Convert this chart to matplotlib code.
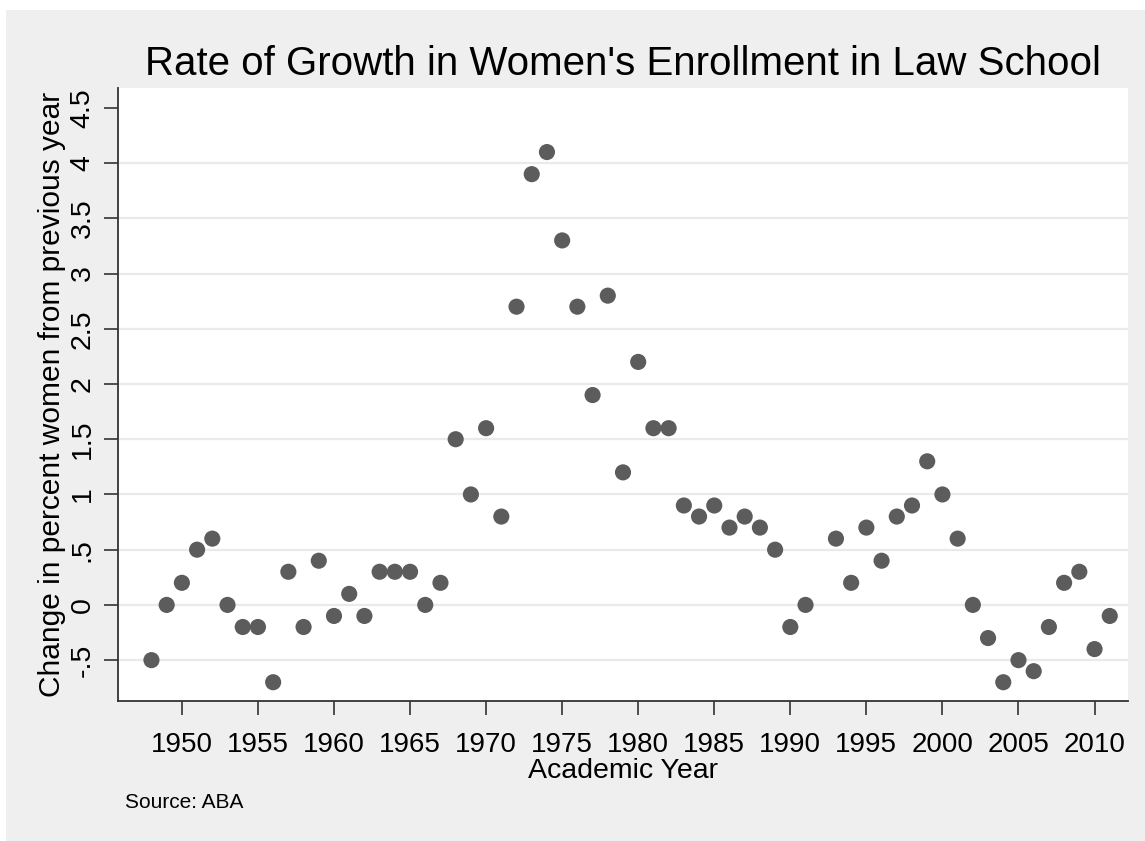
import matplotlib
matplotlib.use("Agg")
import matplotlib.pyplot as plt
from matplotlib.patches import Rectangle

# Academic years (1992 has no value in the source chart)
years = [1948, 1949, 1950, 1951, 1952, 1953, 1954, 1955, 1956, 1957,
         1958, 1959, 1960, 1961, 1962, 1963, 1964, 1965, 1966, 1967,
         1968, 1969, 1970, 1971, 1972, 1973, 1974, 1975, 1976, 1977,
         1978, 1979, 1980, 1981, 1982, 1983, 1984, 1985, 1986, 1987,
         1988, 1989, 1990, 1991, 1993, 1994, 1995, 1996, 1997, 1998,
         1999, 2000, 2001, 2002, 2003, 2004, 2005, 2006, 2007, 2008,
         2009, 2010, 2011]

# Change in percent women from previous year
change = [-0.5, 0.0, 0.2, 0.5, 0.6, 0.0, -0.2, -0.2, -0.7, 0.3,
          -0.2, 0.4, -0.1, 0.1, -0.1, 0.3, 0.3, 0.3, 0.0, 0.2,
          1.5, 1.0, 1.6, 0.8, 2.7, 3.9, 4.1, 3.3, 2.7, 1.9,
          2.8, 1.2, 2.2, 1.6, 1.6, 0.9, 0.8, 0.9, 0.7, 0.8,
          0.7, 0.5, -0.2, 0.0, 0.6, 0.2, 0.7, 0.4, 0.8, 0.9,
          1.3, 1.0, 0.6, 0.0, -0.3, -0.7, -0.5, -0.6, -0.2, 0.2,
          0.3, -0.4, -0.1]

xticks = list(range(1950, 2011, 5))
yticks = [-0.5, 0, 0.5, 1, 1.5, 2, 2.5, 3, 3.5, 4, 4.5]
ytick_labels = ["-.5", "0", ".5", "1", "1.5", "2", "2.5", "3", "3.5", "4", "4.5"]

plt.rcParams['font.family'] = ['Liberation Sans', 'DejaVu Sans']

W, H = 1145, 841
fig = plt.figure(figsize=(W / 100, H / 100), dpi=100, facecolor="white")

# light grey graph region (leaves a thin white strip at top/left)
fig.patches.append(Rectangle((6 / W, 0), 1 - 6 / W, 1 - 10 / H,
                             transform=fig.transFigure, facecolor="#efefef",
                             edgecolor="none", zorder=-10))

ax = fig.add_axes([118 / W, 1 - 701 / H, (1128 - 118) / W, (701 - 88) / H])
ax.set_facecolor("white")

for y in yticks[:-1]:
    ax.axhline(y, color="#eaeaea", lw=1.6, zorder=1)

ax.scatter(years, change, s=135, color="#5c5c5c", edgecolors="none", zorder=3)

ax.set_xlim(1945.8, 2012.2)
ax.set_ylim(-0.87, 4.68)

ax.set_xticks(xticks)
ax.set_xticklabels([str(x) for x in xticks], fontsize=20)
ax.set_yticks(yticks)
ax.set_yticklabels(ytick_labels, fontsize=20.5, rotation=90, va="center")

for side in ["top", "right"]:
    ax.spines[side].set_visible(False)
for side in ["left", "bottom"]:
    ax.spines[side].set_color("#333333")
    ax.spines[side].set_linewidth(1.3)
ax.tick_params(axis="both", direction="out", length=10, width=1.2,
               color="#333333", labelcolor="black")
ax.tick_params(axis="x", pad=12)
ax.tick_params(axis="y", pad=6)

ax.set_xlabel("Academic Year", fontsize=20.5, labelpad=0)
ax.set_ylabel("Change in percent women from previous year", fontsize=21.5, labelpad=3)

fig.text(623 / W, 1 - 64 / H, "Rate of Growth in Women's Enrollment in Law School",
         fontsize=29, ha="center", va="center")
fig.text(125 / W, 1 - 803 / H, "Source: ABA", fontsize=15, ha="left", va="center")

fig.savefig("out.png", dpi=100, facecolor=fig.get_facecolor())
